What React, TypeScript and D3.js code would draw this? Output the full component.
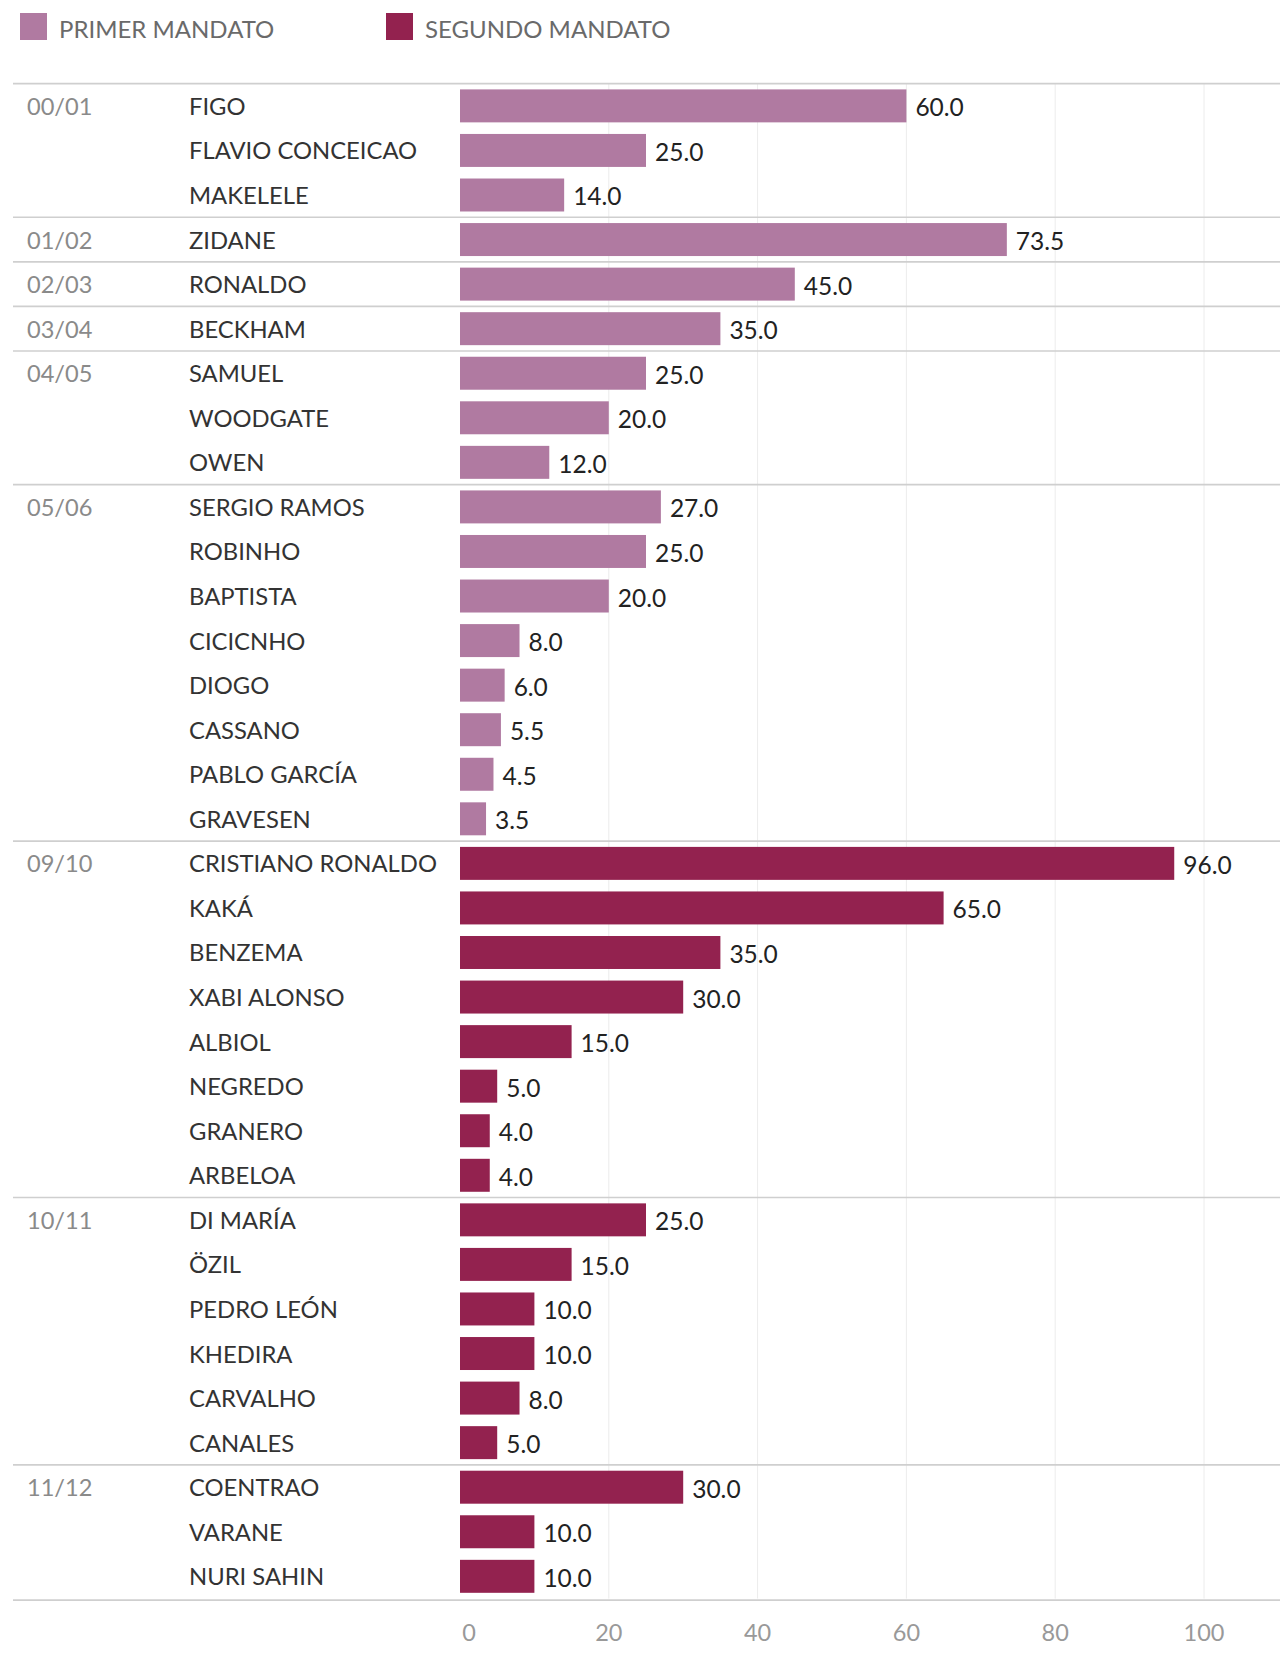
import React from "react";
import * as d3 from "d3";

const seasons = ["00/01", "01/02", "02/03", "03/04", "04/05", "05/06", "09/10", "10/11", "11/12"];
const playerSeason = [
  0, 0, 0,
  1,
  2,
  3,
  4, 4, 4,
  5, 5, 5, 5, 5, 5, 5, 5,
  6, 6, 6, 6, 6, 6, 6, 6,
  7, 7, 7, 7, 7, 7,
  8, 8, 8,
];
const players = [
  "FIGO", "FLAVIO CONCEICAO", "MAKELELE",
  "ZIDANE",
  "RONALDO",
  "BECKHAM",
  "SAMUEL", "WOODGATE", "OWEN",
  "SERGIO RAMOS", "ROBINHO", "BAPTISTA", "CICICNHO", "DIOGO", "CASSANO", "PABLO GARCÍA", "GRAVESEN",
  "CRISTIANO RONALDO", "KAKÁ", "BENZEMA", "XABI ALONSO", "ALBIOL", "NEGREDO", "GRANERO", "ARBELOA",
  "DI MARÍA", "ÖZIL", "PEDRO LEÓN", "KHEDIRA", "CARVALHO", "CANALES",
  "COENTRAO", "VARANE", "NURI SAHIN",
];
const values = [
  60.0, 25.0, 14.0,
  73.5,
  45.0,
  35.0,
  25.0, 20.0, 12.0,
  27.0, 25.0, 20.0, 8.0, 6.0, 5.5, 4.5, 3.5,
  96.0, 65.0, 35.0, 30.0, 15.0, 5.0, 4.0, 4.0,
  25.0, 15.0, 10.0, 10.0, 8.0, 5.0,
  30.0, 10.0, 10.0,
];
const seasonMandato = [0, 0, 0, 0, 0, 0, 1, 1, 1];
const mandatoLabels = ["PRIMER MANDATO", "SEGUNDO MANDATO"];
const mandatoColors = ["#b07aa1", "#93224f"];
const xTicks = [0, 20, 40, 60, 80, 100];

const W = 1280;
const H = 1659;
const FONT = "Lato, 'Open Sans', sans-serif";

export default function App() {
  const x = d3.scaleLinear().domain([0, 100]).range([460, 1204]);
  const y = d3
    .scaleBand<number>()
    .domain(d3.range(players.length))
    .range([83.6, 1598.6])
    .paddingInner(0.26)
    .paddingOuter(0.13);
  const step = y.step();
  const rowTop = (i: number) => (y(i) as number) - (step - y.bandwidth()) / 2;
  const rowMid = (i: number) => (y(i) as number) + y.bandwidth() / 2;

  const groupStarts: number[] = [];
  playerSeason.forEach((s, i) => {
    if (i === 0 || playerSeason[i - 1] !== s) groupStarts.push(i);
  });
  const plotTop = rowTop(0);
  const plotBottom = rowTop(players.length - 1) + step;

  return (
    <svg
      width={W}
      height={H}
      style={{ position: "absolute", left: 0, top: 0, background: "#fff" }}
      fontFamily={FONT}
    >
      {/* legend */}
      {mandatoLabels.map((lab, i) => {
        const lx = i === 0 ? 20 : 386;
        return (
          <g key={lab}>
            <rect x={lx} y={13} width={27} height={27} fill={mandatoColors[i]} />
            <text x={lx + 39} y={28} dominantBaseline="central" fontSize={24} fill="#6a6a6a">
              {lab}
            </text>
          </g>
        );
      })}

      {/* gridlines */}
      {xTicks.filter((t) => t > 0).map((t) => (
        <line key={t} x1={x(t)} x2={x(t)} y1={plotTop} y2={plotBottom} stroke="#ececec" strokeWidth={1} />
      ))}

      {/* group separators */}
      {groupStarts.map((i) => (
        <line key={"sep" + i} x1={13} x2={W} y1={rowTop(i)} y2={rowTop(i)} stroke="#cfcfcf" strokeWidth={1.6} />
      ))}
      <line x1={13} x2={W} y1={plotBottom + 1.5} y2={plotBottom + 1.5} stroke="#cfcfcf" strokeWidth={1.6} />

      {/* season labels */}
      {groupStarts.map((i) => (
        <text key={"s" + i} x={27} y={rowMid(i)} dominantBaseline="central" fontSize={23.6} fill="#8a8a8a">
          {seasons[playerSeason[i]]}
        </text>
      ))}

      {/* rows */}
      {players.map((p, i) => {
        const col = mandatoColors[seasonMandato[playerSeason[i]]];
        return (
          <g key={p + i}>
            <text x={189} y={rowMid(i)} dominantBaseline="central" fontSize={23.8} fill="#333">
              {p}
            </text>
            <rect x={x(0)} y={y(i)} width={x(values[i]) - x(0)} height={y.bandwidth()} fill={col} />
            <text
              x={x(values[i]) + 9}
              y={rowMid(i) + 1}
              dominantBaseline="central"
              fontSize={24.5}
              fill="#222"
            >
              {values[i].toFixed(1)}
            </text>
          </g>
        );
      })}

      {/* x axis labels */}
      {xTicks.map((t, i) => (
        <text
          key={"t" + t}
          x={x(t) + (i === 0 ? 9 : 0)}
          y={1632}
          textAnchor="middle"
          dominantBaseline="central"
          fontSize={23.5}
          fill="#999"
        >
          {t}
        </text>
      ))}
    </svg>
  );
}
